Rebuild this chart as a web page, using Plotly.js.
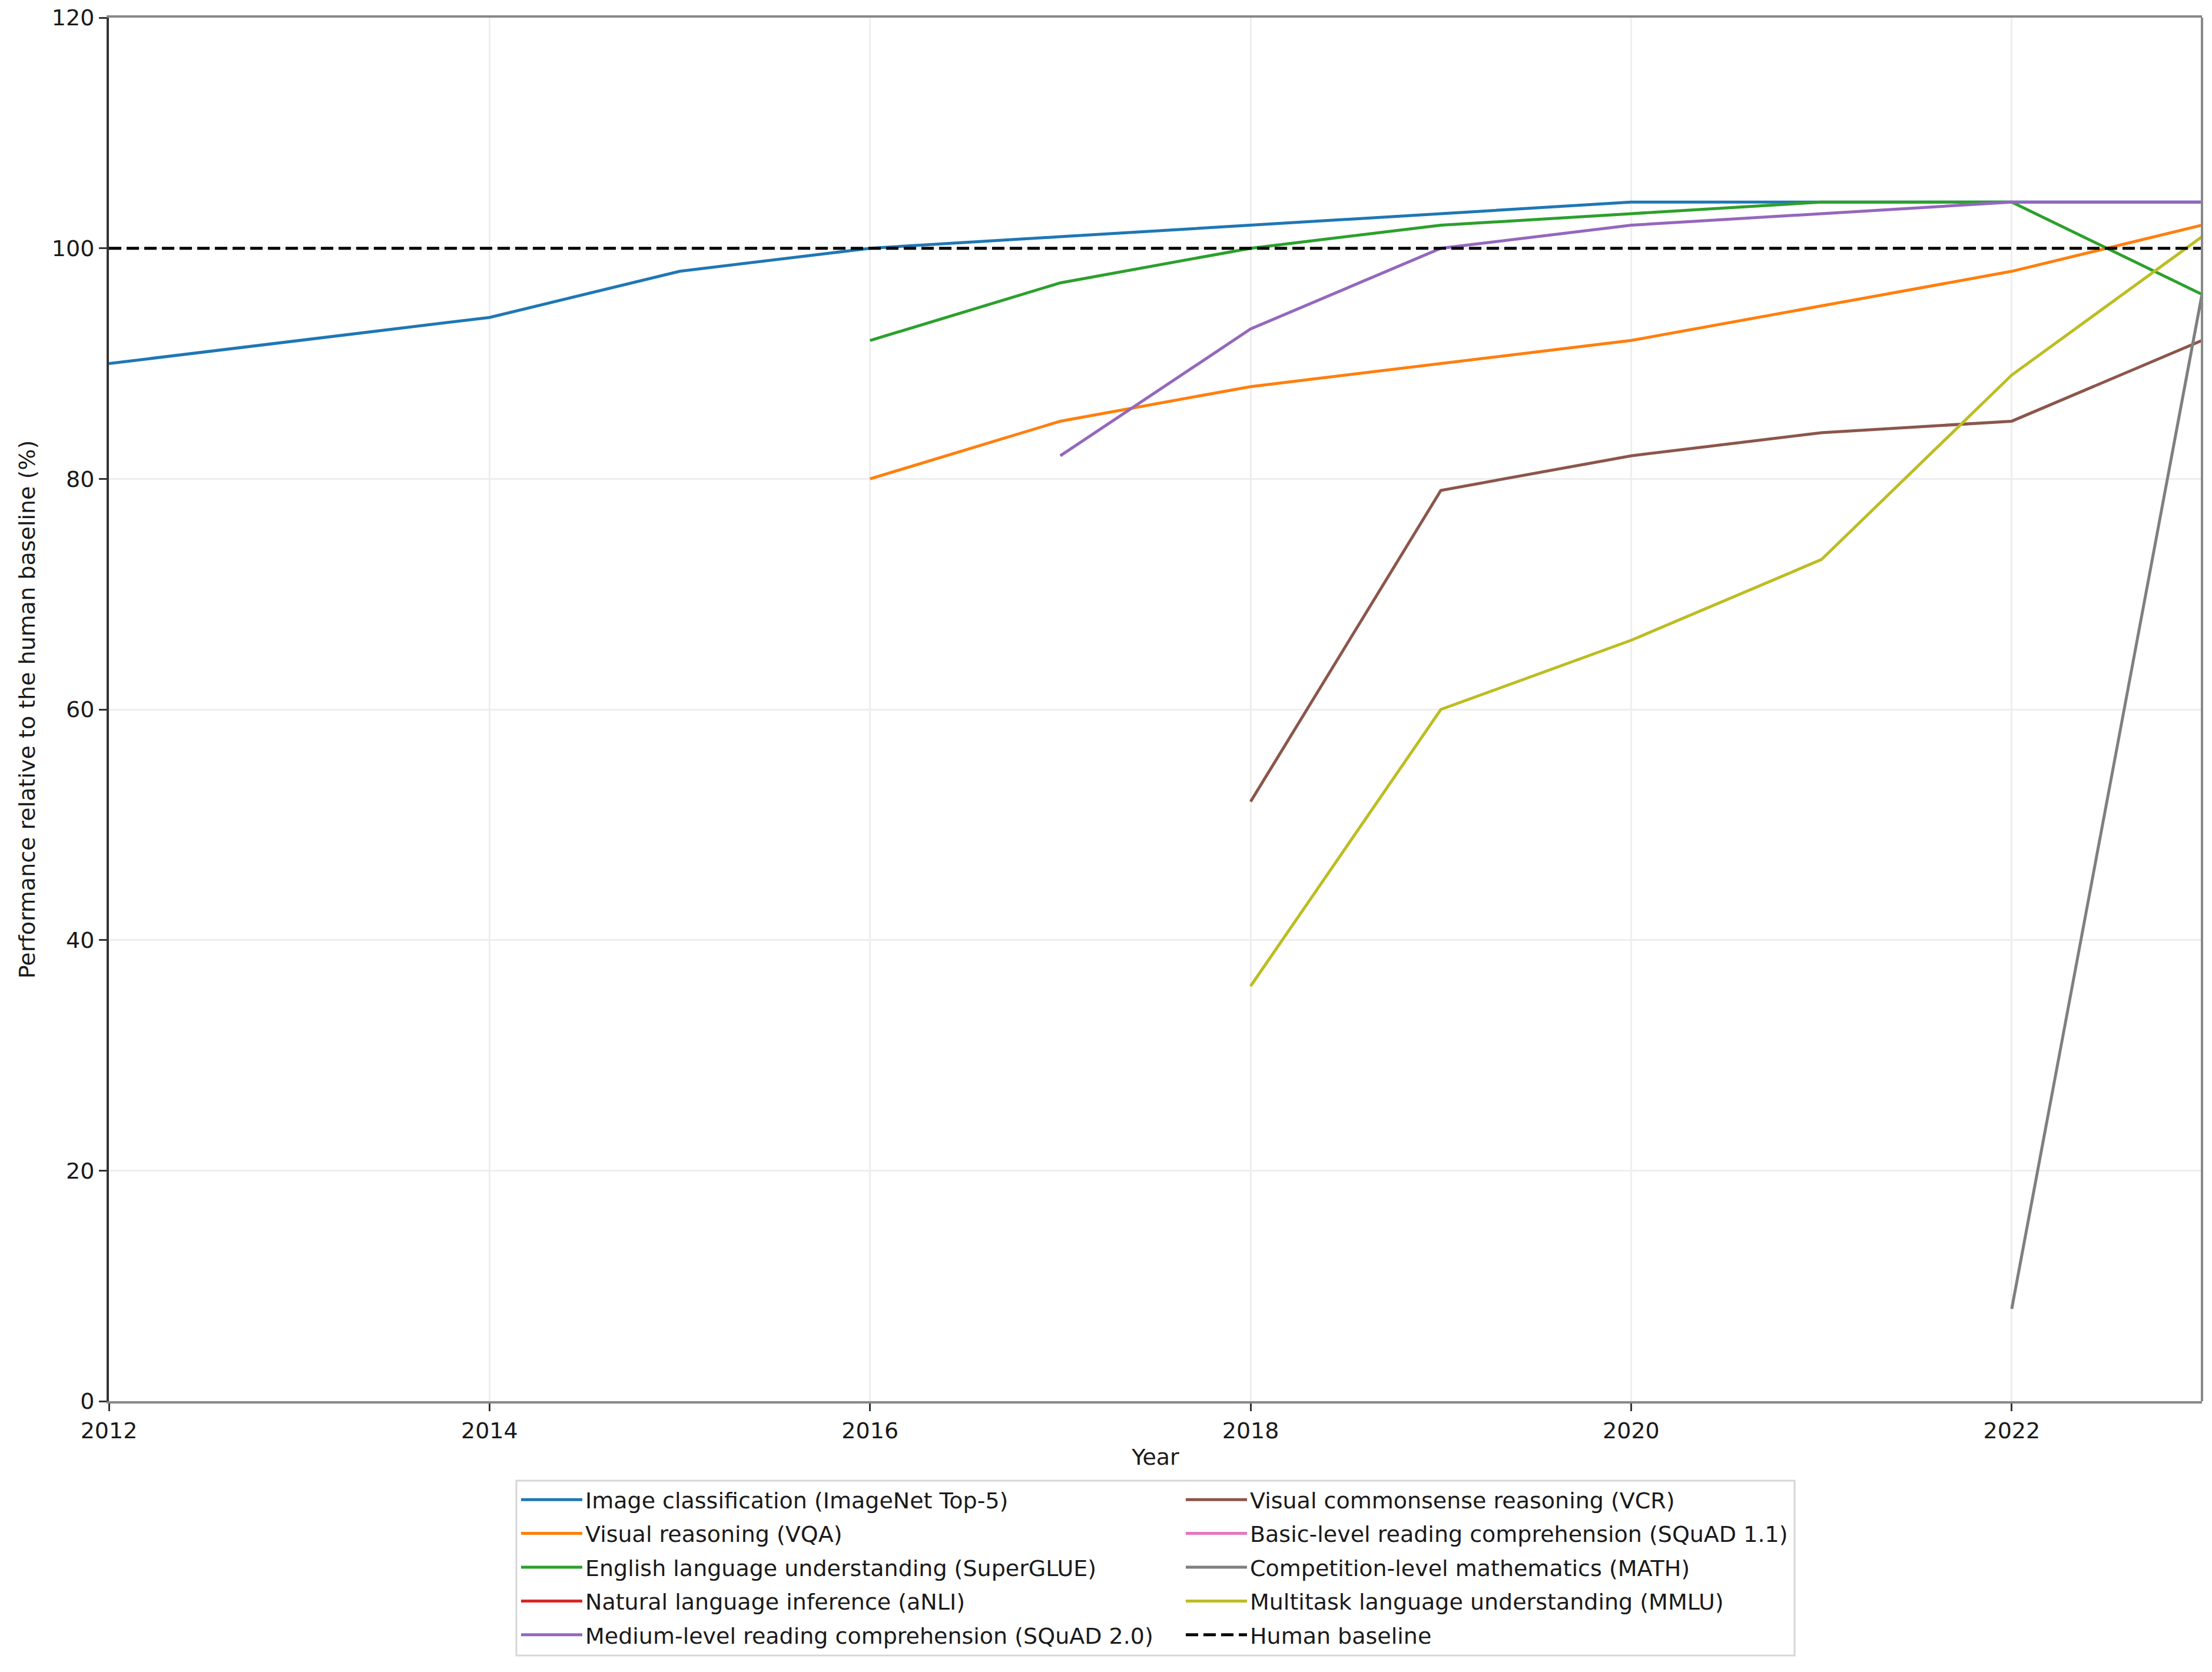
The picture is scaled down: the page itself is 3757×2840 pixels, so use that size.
<!DOCTYPE html>
<html>
<head>
<meta charset="utf-8">
<script src="https://cdn.plot.ly/plotly-3.0.1.min.js"></script>
<style>
html,body{margin:0;padding:0;background:#ffffff;}
#chart{width:3757px;height:2840px;}
</style>
</head>
<body>
<div id="chart"></div>
<script>
// ---- data ----
const seriesNames = [
  "Image classification (ImageNet Top-5)",
  "Visual reasoning (VQA)",
  "English language understanding (SuperGLUE)",
  "Natural language inference (aNLI)",
  "Medium-level reading comprehension (SQuAD 2.0)",
  "Visual commonsense reasoning (VCR)",
  "Basic-level reading comprehension (SQuAD 1.1)",
  "Competition-level mathematics (MATH)",
  "Multitask language understanding (MMLU)",
  "Human baseline"
];
const seriesColors = ["#1f77b4","#ff7f0e","#2ca02c","#d62728","#9467bd","#8c564b","#e377c2","#7f7f7f","#bcbd22","#000000"];

const imagenetYears = [2012, 2014, 2015, 2016, 2017, 2018, 2019, 2020, 2021, 2022, 2023];
const imagenetVals  = [90, 94, 98, 100, 101, 102, 103, 104, 104, 104, 104];

const vqaYears = [2016, 2017, 2018, 2019, 2020, 2021, 2022, 2023];
const vqaVals  = [80, 85, 88, 90, 92, 95, 98, 102];

const superglueYears = [2016, 2017, 2018, 2019, 2020, 2021, 2022, 2023];
const superglueVals  = [92, 97, 100, 102, 103, 104, 104, 96];

const anliYears = [];   // no visible line in the reference (legend entry only)
const anliVals  = [];

const squad2Years = [2017, 2018, 2019, 2020, 2021, 2022, 2023];
const squad2Vals  = [82, 93, 100, 102, 103, 104, 104];

const vcrYears = [2018, 2019, 2020, 2021, 2022, 2023];
const vcrVals  = [52, 79, 82, 84, 85, 92];

const squad1Years = []; // no visible line in the reference (legend entry only)
const squad1Vals  = [];

const mathYears = [2022, 2023];
const mathVals  = [8, 96];

const mmluYears = [2018, 2019, 2020, 2021, 2022, 2023];
const mmluVals  = [36, 60, 66, 73, 89, 101];

const baselineYears = [2012, 2023];
const baselineVals  = [100, 100];

const xTickVals = [2012, 2014, 2016, 2018, 2020, 2022];
const yTickVals = [0, 20, 40, 60, 80, 100, 120];

// ---- figure ----
const W = 3757, H = 2840;
const FONT = "DejaVu Sans, Liberation Sans, sans-serif";
const FS = 38;
const TXT = "#1a1a1a";

const xs = [imagenetYears, vqaYears, superglueYears, anliYears, squad2Years, vcrYears, squad1Years, mathYears, mmluYears, baselineYears];
const ys = [imagenetVals, vqaVals, superglueVals, anliVals, squad2Vals, vcrVals, squad1Vals, mathVals, mmluVals, baselineVals];

const traces = xs.map((x, i) => ({
  type: "scatter",
  mode: "lines",
  // empty series keep a single null point so that their legend entry still shows
  x: x.length ? x : [null],
  y: ys[i].length ? ys[i] : [null],
  name: seriesNames[i],
  legend: i < 5 ? "legend" : "legend2",
  legendgroup: "g" + i,
  line: { color: seriesColors[i], width: 5, dash: i === 9 ? "21px,9px" : "solid" },
  hoverinfo: "skip"
}));

const plotL = 185, plotR = 3740, plotT = 30, plotB = 2380;
const pw = plotR - plotL, ph = plotB - plotT;
const toPX = px => (px - plotL) / pw;
const toPY = py => (plotB - py) / ph;

function legendCfg(px, py) {
  return {
    xref: "paper", yref: "paper",
    x: toPX(px), y: toPY(py),
    xanchor: "left", yanchor: "top",
    orientation: "v",
    bgcolor: "rgba(0,0,0,0)",
    borderwidth: 0,
    font: { family: FONT, size: FS, color: TXT },
    itemwidth: 104,
    tracegroupgap: 5,
    itemclick: false, itemdoubleclick: false
  };
}

const layout = {
  width: W, height: H,
  paper_bgcolor: "#ffffff",
  plot_bgcolor: "#ffffff",
  margin: { l: plotL, r: W - plotR, t: plotT, b: H - plotB, pad: 0 },
  font: { family: FONT, size: FS, color: TXT },
  showlegend: true,
  xaxis: {
    range: [2012, 2023],
    tickmode: "array", tickvals: xTickVals, ticktext: xTickVals.map(String),
    showgrid: true, gridcolor: "#eeeeee", gridwidth: 3,
    zeroline: false,
    showline: true, linecolor: "#888888", linewidth: 4, mirror: true,
    ticks: "outside", ticklen: 13, tickwidth: 3, tickcolor: "#333333",
    tickfont: { family: FONT, size: FS, color: TXT },
    title: { text: "Year", font: { family: FONT, size: FS, color: TXT }, standoff: 12 },
    automargin: false,
    fixedrange: true
  },
  yaxis: {
    range: [0, 120],
    tickmode: "array", tickvals: yTickVals, ticktext: yTickVals.map(String),
    showgrid: true, gridcolor: "#eeeeee", gridwidth: 3,
    zeroline: false,
    showline: true, linecolor: "#333333", linewidth: 4, mirror: false,
    ticks: "outside", ticklen: 13, tickwidth: 3, tickcolor: "#333333",
    tickfont: { family: FONT, size: FS, color: TXT },
    title: { text: "Performance relative to the human baseline (%)", font: { family: FONT, size: FS, color: TXT }, standoff: 18 },
    automargin: false,
    fixedrange: true
  },
  legend: legendCfg(880, 2516),
  legend2: legendCfg(2009, 2516),
  shapes: [
    { type: "line", xref: "paper", yref: "paper", x0: 1, x1: 1, y0: 0, y1: 1,
      line: { color: "#888888", width: 4 }, layer: "above" },
    { type: "rect", xref: "paper", yref: "paper",
      x0: toPX(877), x1: toPX(3048), y0: toPY(2812), y1: toPY(2515),
      line: { color: "#d6d6d6", width: 3 }, fillcolor: "rgba(255,255,255,0)", layer: "above" }
  ]
};

Plotly.newPlot("chart", traces, layout, { displayModeBar: false, staticPlot: true });
</script>
</body>
</html>
